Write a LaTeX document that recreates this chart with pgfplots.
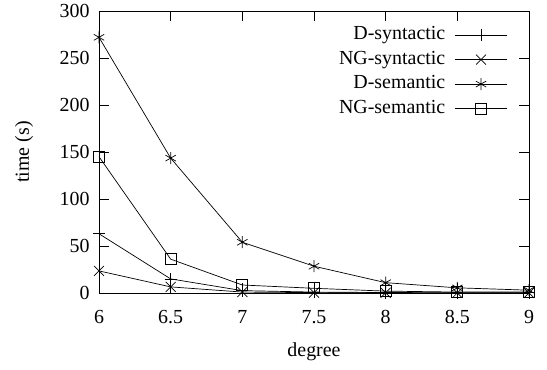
\documentclass[border=0pt]{standalone}
\usepackage{fontspec}
\setmainfont{Liberation Serif}
\usepackage{pgfplots}
\pgfplotsset{compat=1.18}
\begin{document}
\begin{tikzpicture}
\path (-99bp,-77bp) rectangle (448bp,293bp);
\begin{axis}[
  name=ax,
  at={(0,0)}, anchor=south west,
  scale only axis,
  width=430bp, height=282bp,
  xmin=6, xmax=9, ymin=0, ymax=300,
  xtick={6,6.5,7,7.5,8,8.5,9},
  xticklabels={6,6.5,7,7.5,8,8.5,9},
  ytick={0,50,100,150,200,250,300},
  tick align=inside,
  tick pos=both,
  major tick length=10bp,
  axis line style={line width=1pt},
  every tick/.style={black, line width=0.8pt},
  font=\fontsize{20}{24}\selectfont,
  tick label style={font=\fontsize{20}{24}\selectfont},
  label style={font=\fontsize{20}{24}\selectfont},
  /pgf/number format/assume math mode=true,
  xticklabel style={yshift=-14bp},
  yticklabel style={xshift=-6bp},
  xlabel={degree}, ylabel={time (s)},
  xlabel style={at={(axis description cs:0.5,-0.21)}, anchor=center},
  ylabel style={at={(axis description cs:-0.174,0.5)}, anchor=center},
  legend style={draw=none, fill=none, at={(axis description cs:0.951,0.949)}, anchor=north east,
    font=\fontsize{20}{24}\selectfont, nodes={inner sep=0pt, text height=14bp, text depth=5bp},
    row sep=5.5bp, column sep=9bp, inner sep=0pt},
  legend cell align=right,
  legend plot pos=right,
  legend image code/.code={\draw[mark repeat=2,mark phase=2] plot coordinates {(0cm,0cm) (0.93cm,0cm) (1.86cm,0cm)};},
  every axis plot/.append style={black, line width=0.7pt, mark options={solid, line width=0.7pt}},
]
\addplot[mark=+, mark size=6bp] coordinates {(6,63) (6.5,15) (7,2.5) (7.5,1) (8,0.5) (8.5,0.3) (9,0.2)};
\addlegendentry{D-syntactic}
\addplot[mark=x, mark size=7bp] coordinates {(6,23.5) (6.5,6.5) (7,1) (7.5,0.4) (8,0.2) (8.5,0.1) (9,0.1)};
\addlegendentry{NG-syntactic}
\addplot[mark=asterisk, mark size=6bp] coordinates {(6,272) (6.5,143.5) (7,54) (7.5,28.5) (8,11) (8.5,5.5) (9,3)};
\addlegendentry{D-semantic}
\addplot[mark=square, mark size=5.5bp] coordinates {(6,145) (6.5,36) (7,8.5) (7.5,5) (8,2) (8.5,1) (9,1)};
\addlegendentry{NG-semantic}
\end{axis}
\end{tikzpicture}
\end{document}
